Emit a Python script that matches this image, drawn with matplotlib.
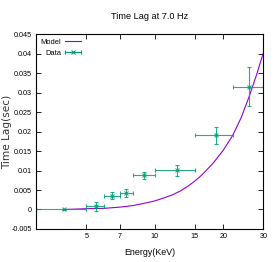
import matplotlib
matplotlib.use('Agg')
import matplotlib.pyplot as plt
from matplotlib.lines import Line2D
from matplotlib.legend_handler import HandlerBase
from matplotlib.ticker import FixedLocator, FixedFormatter, NullLocator

plt.rcParams['font.family'] = ['Liberation Sans', 'DejaVu Sans']

# 模型曲线（读图所得）
model_e = [4, 5, 6, 7, 8, 9, 10, 11, 12, 13, 14, 15, 16, 18, 20, 22, 24, 26, 28, 30]
model_lag = [0.0, 0.0002, 0.0003, 0.0006, 0.001, 0.0016, 0.0022, 0.0030, 0.0038, 0.0048,
             0.0060, 0.0073, 0.0087, 0.0118, 0.0152, 0.0190, 0.0236, 0.0290, 0.0345, 0.0402]

# 数据点
data_e = [4.0, 5.5, 6.5, 7.5, 9.0, 12.5, 18.5, 26.0]
data_elo = [1.0, 0.5, 0.5, 0.5, 1.0, 2.5, 3.5, 4.0]
data_ehi = [1.0, 0.5, 0.5, 0.5, 1.0, 2.5, 3.5, 4.0]
data_lag = [0.0, 0.0008, 0.0035, 0.0042, 0.0088, 0.0101, 0.0190, 0.0315]
data_lagerr = [0.0002, 0.0012, 0.0009, 0.0011, 0.0009, 0.0014, 0.0022, 0.0050]

xticks = [5, 7, 10, 15, 20, 30]
xticklabels = ['5', '7', '10', '15', '20', '30']
yticks = [-0.005, 0, 0.005, 0.01, 0.015, 0.02, 0.025, 0.03, 0.035, 0.04, 0.045]
yticklabels = ['-0.005', '0', '0.005', '0.01', '0.015', '0.02', '0.025',
               '0.03', '0.035', '0.04', '0.045']

DATA_C = '#009e73'
MODEL_C = '#9400d3'


# gnuplot 风格的图例：横线 + 两端短竖线 + 中间 x
class XErrHandler(HandlerBase):
    def create_artists(self, legend, orig_handle, xdescent, ydescent,
                       width, height, fontsize, trans):
        y = height / 2 - ydescent
        x0, x1 = -xdescent, -xdescent + width
        arts = [
            Line2D([x0, x1], [y, y], color=DATA_C, lw=0.8),
            Line2D([x0, x1], [y, y], ls='', marker='|', ms=3, mew=0.8, color=DATA_C),
            Line2D([(x0 + x1) / 2], [y], ls='', marker='x', ms=2.5, mew=0.8, color=DATA_C),
        ]
        for a in arts:
            a.set_transform(trans)
        return arts


fig = plt.figure(figsize=(2.74, 2.62), dpi=100)
ax = fig.add_axes([0.131, 0.126, 0.830, 0.744])

ax.plot(model_e, model_lag, color=MODEL_C, lw=0.8, label='Model')
eb = ax.errorbar(data_e, data_lag, xerr=[data_elo, data_ehi], yerr=data_lagerr,
                 fmt='x', color=DATA_C, ms=3, mew=0.8, elinewidth=0.8,
                 capsize=1.5, capthick=0.8, alpha=0.85, label='Data')

ax.set_xscale('log')
ax.set_xlim(3, 30)
ax.set_ylim(-0.005, 0.045)
ax.xaxis.set_major_locator(FixedLocator(xticks))
ax.xaxis.set_major_formatter(FixedFormatter(xticklabels))
ax.xaxis.set_minor_locator(NullLocator())
ax.set_yticks(yticks)
ax.set_yticklabels(yticklabels)

ax.tick_params(direction='in', length=3.5, width=0.6, labelsize=5.2,
               top=True, right=True, pad=3)
for s in ax.spines.values():
    s.set_linewidth(0.8)

ax.set_title('Time Lag at 7.0 Hz', fontsize=6.6, pad=11)
ax.set_xlabel('Energy(KeV)', fontsize=6.4, labelpad=6)
ax.set_ylabel('Time Lag(sec)', fontsize=7.6, family='DejaVu Sans', color='#333333')
ax.yaxis.set_label_coords(-0.105, 0.5)

handles, labels = ax.get_legend_handles_labels()
ax.legend(handles, labels, loc='upper left', frameon=False, markerfirst=False,
          fontsize=5.4, handlelength=2.1, handletextpad=0.5, labelspacing=0.5,
          borderaxespad=0.2, bbox_to_anchor=(0.0, 1.0),
          handler_map={type(eb): XErrHandler()})

fig.savefig('out.png', dpi=100)
